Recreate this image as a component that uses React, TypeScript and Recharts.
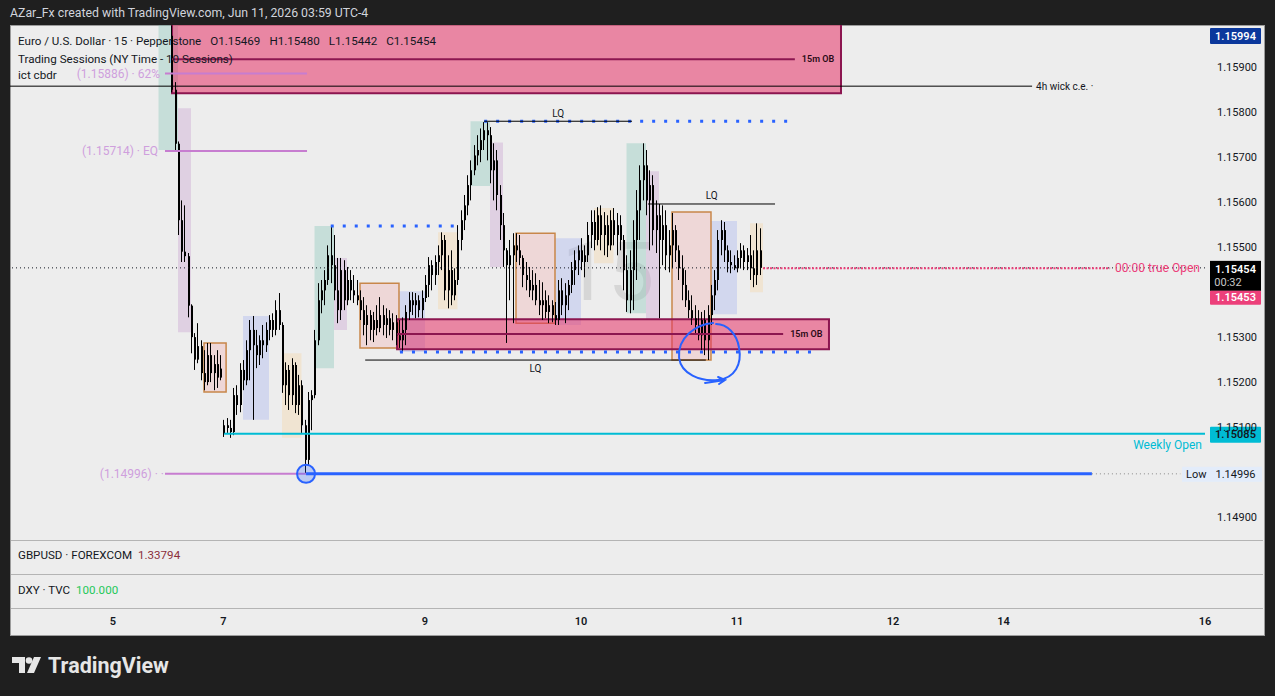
import React from "react";
import {
  ComposedChart,
  Bar,
  XAxis,
  YAxis,
  ReferenceArea,
  ReferenceLine,
  ReferenceDot,
} from "recharts";

const FONT = "Roboto, 'Noto Sans', sans-serif";

type OHLC = [number, number, number, number];

// 30-minute EURUSD bars, [open, high, low, close]; time in hours from Fri Jun 5 00:00 (weekend removed)
const fridayBars: OHLC[] = [
  [1.1597, 1.15993, 1.15844, 1.1585], [1.1585, 1.15867, 1.15716, 1.1573], [1.1573, 1.15735, 1.15527, 1.1556],
  [1.1556, 1.15604, 1.15467, 1.1549], [1.1549, 1.15593, 1.15467, 1.1548], [1.1548, 1.15487, 1.15344, 1.1537],
  [1.1537, 1.15373, 1.15264, 1.153], [1.153, 1.15309, 1.15227, 1.1525], [1.1525, 1.15331, 1.15242, 1.1528],
  [1.1528, 1.15293, 1.15204, 1.1522], [1.1522, 1.15271, 1.15182, 1.152], [1.152, 1.15287, 1.15193, 1.1526],
  [1.1526, 1.15287, 1.152, 1.1522], [1.1522, 1.1526, 1.15182, 1.1524], [1.1524, 1.15271, 1.15187, 1.1521],
  [1.1521, 1.1526, 1.15204, 1.1523],
];

const sundayBars: OHLC[] = [
  [1.15085, 1.15116, 1.15078, 1.15104], [1.15104, 1.1512, 1.15087, 1.15098], [1.15098, 1.15116, 1.15076, 1.15089],
  [1.15089, 1.15187, 1.15082, 1.15171], [1.15171, 1.15193, 1.15127, 1.15149], [1.15149, 1.15242, 1.15133, 1.15227],
  [1.15227, 1.15249, 1.15182, 1.15204], [1.15204, 1.15293, 1.15193, 1.15271], [1.15271, 1.15338, 1.15204, 1.15316],
  [1.15316, 1.15347, 1.15116, 1.15282], [1.15282, 1.15316, 1.15231, 1.1526], [1.1526, 1.15304, 1.15238, 1.15293],
  [1.15293, 1.15327, 1.15253, 1.15282], [1.15282, 1.15333, 1.15267, 1.15316],
];

const mondayBars: OHLC[] = [
  [1.15316, 1.15349, 1.15293, 1.15338], [1.15338, 1.15353, 1.153, 1.15316], [1.15316, 1.15382, 1.15304, 1.1536],
  [1.1536, 1.15398, 1.15316, 1.15327], [1.15327, 1.15333, 1.15176, 1.15193], [1.15193, 1.15244, 1.15149, 1.15227],
  [1.15227, 1.15238, 1.15138, 1.15171], [1.15171, 1.15253, 1.15149, 1.15238], [1.15238, 1.15244, 1.15131, 1.15149],
  [1.15149, 1.15216, 1.15127, 1.15193], [1.15193, 1.15204, 1.15087, 1.15104], [1.15104, 1.15116, 1.14996, 1.15027],
  [1.15027, 1.15178, 1.15016, 1.1516], [1.1516, 1.15182, 1.15093, 1.15171], [1.15171, 1.15316, 1.15164, 1.15293],
  [1.15293, 1.1542, 1.15282, 1.15382], [1.15382, 1.15427, 1.15353, 1.15404], [1.15404, 1.15449, 1.15371, 1.15427],
  [1.15427, 1.15504, 1.15416, 1.15482], [1.15482, 1.15547, 1.1542, 1.1546], [1.1546, 1.15527, 1.15382, 1.15404],
  [1.15404, 1.15476, 1.15331, 1.1536], [1.1536, 1.15476, 1.15338, 1.15449], [1.15449, 1.15471, 1.1536, 1.15382],
  [1.15382, 1.15456, 1.15371, 1.15427], [1.15427, 1.15449, 1.15382, 1.15404], [1.15404, 1.15438, 1.15376, 1.15393],
  [1.15393, 1.15427, 1.15371, 1.15382], [1.15382, 1.15404, 1.15338, 1.1536], [1.1536, 1.15389, 1.15304, 1.15327],
  [1.15327, 1.15371, 1.15282, 1.15349], [1.15349, 1.1536, 1.15293, 1.15316], [1.15316, 1.15356, 1.15289, 1.15338],
  [1.15338, 1.15371, 1.15304, 1.1532], [1.1532, 1.15389, 1.15311, 1.15349], [1.15349, 1.15371, 1.15304, 1.15327],
  [1.15327, 1.15364, 1.15298, 1.15342], [1.15342, 1.1536, 1.15304, 1.15316], [1.15316, 1.15353, 1.15293, 1.15333],
  [1.15333, 1.15349, 1.15282, 1.15304], [1.15304, 1.15338, 1.15276, 1.15293], [1.15293, 1.15344, 1.15267, 1.15316],
  [1.15316, 1.15371, 1.15282, 1.15356], [1.15356, 1.154, 1.15338, 1.15382], [1.15382, 1.154, 1.15349, 1.15371],
  [1.15371, 1.15398, 1.15342, 1.15382], [1.15382, 1.15393, 1.15344, 1.1536], [1.1536, 1.15404, 1.15342, 1.15387],
];

const tuesdayBars: OHLC[] = [
  [1.15387, 1.15438, 1.15378, 1.15416], [1.15416, 1.15478, 1.15389, 1.1546], [1.1546, 1.15471, 1.15404, 1.15438],
  [1.15438, 1.15482, 1.15416, 1.15467], [1.15467, 1.15504, 1.15438, 1.15482], [1.15482, 1.15533, 1.15449, 1.15516],
  [1.15516, 1.15527, 1.15382, 1.15404], [1.15404, 1.15482, 1.15364, 1.15449], [1.15449, 1.15493, 1.15371, 1.15393],
  [1.15393, 1.15453, 1.15382, 1.15427], [1.15427, 1.15549, 1.15416, 1.15516], [1.15516, 1.15582, 1.15493, 1.1556],
  [1.1556, 1.15616, 1.15538, 1.15593], [1.15593, 1.1566, 1.15571, 1.15638], [1.15638, 1.15693, 1.15604, 1.15671],
  [1.15671, 1.15727, 1.1566, 1.15704], [1.15704, 1.15749, 1.15682, 1.15716], [1.15716, 1.15764, 1.15689, 1.15738],
  [1.15738, 1.15778, 1.15716, 1.1576], [1.1576, 1.15778, 1.15693, 1.15749], [1.15749, 1.15767, 1.15642, 1.15671],
  [1.15671, 1.15731, 1.15604, 1.15693], [1.15693, 1.15716, 1.15582, 1.15616], [1.15616, 1.15638, 1.15516, 1.15549],
  [1.15549, 1.15576, 1.15456, 1.15493], [1.15493, 1.15498, 1.15287, 1.1546], [1.1546, 1.15516, 1.15382, 1.15482],
  [1.15482, 1.15531, 1.15331, 1.15504], [1.15504, 1.15531, 1.15467, 1.15493], [1.15493, 1.15527, 1.1546, 1.15476],
  [1.15476, 1.15482, 1.15411, 1.15438], [1.15438, 1.15467, 1.15404, 1.15427], [1.15427, 1.15456, 1.15389, 1.15404],
  [1.15404, 1.15449, 1.15382, 1.15416], [1.15416, 1.15442, 1.15371, 1.15382], [1.15382, 1.15427, 1.15349, 1.15371],
  [1.15371, 1.15422, 1.15338, 1.15382], [1.15382, 1.15404, 1.15342, 1.15356], [1.15356, 1.15393, 1.15331, 1.15371],
  [1.15371, 1.15382, 1.15333, 1.15349], [1.15349, 1.15378, 1.15327, 1.15338], [1.15338, 1.15427, 1.15327, 1.15404],
  [1.15404, 1.15431, 1.15349, 1.15371], [1.15371, 1.1542, 1.15331, 1.15393], [1.15393, 1.15427, 1.1536, 1.15416],
  [1.15416, 1.15467, 1.15398, 1.15449], [1.15449, 1.15493, 1.15416, 1.15471], [1.15471, 1.15504, 1.15438, 1.15493],
];

const wednesdayBars: OHLC[] = [
  [1.15493, 1.1552, 1.15449, 1.15467], [1.15467, 1.15504, 1.15433, 1.15482], [1.15482, 1.15556, 1.15467, 1.15527],
  [1.15527, 1.15582, 1.15498, 1.15556], [1.15556, 1.15582, 1.15493, 1.15516], [1.15516, 1.15589, 1.15504, 1.15571],
  [1.15571, 1.15593, 1.15493, 1.15527], [1.15527, 1.15578, 1.15482, 1.15549], [1.15549, 1.15571, 1.15478, 1.15504],
  [1.15504, 1.15582, 1.15493, 1.1556], [1.1556, 1.15587, 1.15504, 1.15527], [1.15527, 1.15576, 1.15482, 1.15549],
  [1.15549, 1.15571, 1.15493, 1.15516], [1.15516, 1.15527, 1.15404, 1.15449], [1.15449, 1.15482, 1.15356, 1.15382],
  [1.15382, 1.15493, 1.15353, 1.15449], [1.15449, 1.1556, 1.1536, 1.15516], [1.15516, 1.15627, 1.15427, 1.15582],
  [1.15582, 1.15682, 1.15516, 1.15649], [1.15649, 1.15731, 1.15604, 1.15682], [1.15682, 1.15716, 1.15571, 1.15604],
  [1.15604, 1.15671, 1.15493, 1.15638], [1.15638, 1.1566, 1.15504, 1.15538], [1.15538, 1.15604, 1.15487, 1.15571],
  [1.15571, 1.15596, 1.15342, 1.15516], [1.15516, 1.15593, 1.1546, 1.15549], [1.15549, 1.15582, 1.15449, 1.15482],
  [1.15482, 1.15538, 1.15444, 1.15504], [1.15504, 1.15576, 1.15453, 1.15538], [1.15538, 1.15549, 1.15467, 1.15493],
  [1.15493, 1.15504, 1.15427, 1.15453], [1.15453, 1.15482, 1.15382, 1.15416], [1.15416, 1.15449, 1.15367, 1.15382],
  [1.15382, 1.15404, 1.15342, 1.1536], [1.1536, 1.15393, 1.15327, 1.15342], [1.15342, 1.15371, 1.15309, 1.15327],
  [1.15327, 1.1536, 1.15293, 1.15304], [1.15304, 1.15356, 1.15271, 1.15338], [1.15338, 1.1536, 1.1526, 1.15293],
  [1.15293, 1.15371, 1.15249, 1.15349], [1.15349, 1.15416, 1.15327, 1.15393], [1.15393, 1.15449, 1.1536, 1.15427],
  [1.15427, 1.15538, 1.15404, 1.15516], [1.15516, 1.1556, 1.15482, 1.15538], [1.15538, 1.15556, 1.15467, 1.15493],
  [1.15493, 1.15504, 1.15444, 1.15467], [1.15467, 1.15493, 1.15442, 1.1546], [1.1546, 1.15482, 1.15449, 1.15453],
];

const thursdayBars: OHLC[] = [
  [1.15453, 1.15493, 1.15444, 1.15476], [1.15476, 1.15509, 1.15453, 1.15493], [1.15493, 1.15504, 1.15449, 1.15467],
  [1.15467, 1.15498, 1.15449, 1.15482], [1.15482, 1.15527, 1.15427, 1.15453], [1.15453, 1.15493, 1.15411, 1.15438],
  [1.15438, 1.15553, 1.15416, 1.15493], [1.15493, 1.15542, 1.15438, 1.15454],
];

// session boxes: [start hour, end hour, low, high]
const nyBoxes = [[7, 10, 1.15716, 1.1602], [31, 34, 1.15231, 1.15547], [55, 58, 1.15636, 1.1578], [79, 82, 1.15353, 1.15731]];
const lunchBoxes = [[10, 12, 1.15311, 1.15809], [34, 36, 1.15316, 1.15476], [58, 60, 1.15456, 1.15733], [82, 84, 1.15338, 1.15669]];
const cbdrBoxes = [[14, 17.4, 1.15178, 1.15287], [38, 44, 1.15276, 1.1542], [62, 68, 1.15331, 1.15531], [86, 92, 1.15249, 1.15578]];
const asiaBoxes = [[20, 24, 1.15116, 1.15347], [44, 48, 1.15267, 1.15402], [68, 72, 1.15327, 1.1552], [92, 96, 1.15351, 1.15558]];
const londonBoxes = [[26, 29, 1.15076, 1.15264], [50, 53, 1.15362, 1.15533], [74, 77, 1.15464, 1.15587], [98, 100, 1.154, 1.15553]];

// key levels
const visibleHigh = 1.15994;
const lastPrice = 1.15454;
const trueOpen = 1.15453;
const weeklyOpen = 1.15085;
const weekLow = 1.14996;
const cbdr62 = 1.15886;
const cbdrEq = 1.15714;
const wickCE = 1.15858;
const lqHigh = 1.1578;
const lqMonday = 1.15547;
const lqWednesday = 1.15596;
const lqDots = 1.15267;
const lqLow = 1.15249;
const obUpper = { from: 9.08, to: 112, low: 1.15842, high: 1.1602, mid: 1.15918, midEnd: 104.9 };
const obLower = { from: 43.7, to: 110.15, low: 1.15273, high: 1.1534, mid: 1.15307, midEnd: 103.1 };

const timeTicks = [0, 17, 48, 72, 96, 120, 137, 168];
const timeLabels = ["5", "7", "9", "10", "11", "12", "14", "16"];
const priceTicks = [1.149, 1.151, 1.152, 1.153, 1.155, 1.156, 1.157, 1.158, 1.159];

const toCandles = (bars: OHLC[], start: number) =>
  bars.map(([open, high, low, close], i) => ({ t: start + i * 0.5, open, high, low, close, range: [low, high] }));

const candles = [
  ...toCandles(fridayBars, 9),
  ...toCandles(sundayBars, 17),
  ...toCandles(mondayBars, 24),
  ...toCandles(tuesdayBars, 48),
  ...toCandles(wednesdayBars, 72),
  ...toCandles(thursdayBars, 96),
];

const CandleShape = (props: any) => {
  const { x, y, width, height } = props;
  const d = props.payload ?? props;
  if (x == null || y == null || d.high == null) return null;
  const top = Math.min(y, y + height);
  const h = Math.abs(height);
  const span = d.high - d.low;
  const k = span > 0 ? h / span : 0;
  const bTop = top + (d.high - Math.max(d.open, d.close)) * k;
  const bBot = top + (d.high - Math.min(d.open, d.close)) * k;
  const cx = Math.round(x + width / 2);
  return (
    <g>
      <line x1={cx + 0.5} x2={cx + 0.5} y1={top} y2={top + h} stroke="#000" strokeWidth={1} />
      <rect x={cx} y={bTop} width={2} height={Math.max(1, bBot - bTop)} fill="#000" />
    </g>
  );
};

const PriceTick = (props: any) => (
  <text x={1257} y={props.y} dy={4} textAnchor="end" fontSize={11} fill="#131722" fontFamily={FONT}>
    {Number(props.payload.value).toFixed(5)}
  </text>
);

const TimeTick = (props: any) => {
  const idx = timeTicks.indexOf(props.payload.value);
  return (
    <text x={props.x} y={625} textAnchor="middle" fontSize={11} fontWeight={600} fill="#131722" fontFamily={FONT}>
      {timeLabels[idx]}
    </text>
  );
};

// text placed at a data point
const note = (text: string, dx: number, dy: number, fill: string, size = 10, anchor = "start", weight = 400) =>
  (p: any) => (
    <text x={p.cx + dx} y={p.cy + dy} fill={fill} fontSize={size} textAnchor={anchor} fontWeight={weight}
      fontFamily={FONT} dominantBaseline="central">
      {text}
    </text>
  );

// coloured price tag on the right scale
const tag = (text: string, bg: string, color: string, dy: number, h = 16) => (p: any) => (
  <g>
    <rect x={p.cx + 5} y={p.cy + dy} width={51} height={h} fill={bg} rx={1} />
    <text x={p.cx + 30.5} y={p.cy + dy + h / 2} fill={color} fontSize={11} fontWeight={600} textAnchor="middle"
      dominantBaseline="central" fontFamily={FONT}>
      {text}
    </text>
  </g>
);

const sessionStyles = [
  { boxes: nyBoxes, fill: "#7fc4b4", stroke: "none" },
  { boxes: lunchBoxes, fill: "#c79bcf", stroke: "none" },
  { boxes: asiaBoxes, fill: "#a0aff2", stroke: "none" },
  { boxes: londonBoxes, fill: "#f5d5a0", stroke: "none" },
  { boxes: cbdrBoxes, fill: "#f2b0b0", stroke: "#c8874a" },
];

const OB_FILL = "#e63266";
const OB_EDGE = "#8c1650";
const LQ_BLUE = "#2962ff";
const PURPLE = "#c77dd0";
const PURPLE_TEXT = "#cf9fdd";

export default function App() {
  const pane = { position: "absolute" as const, left: 18, fontSize: 11.6, lineHeight: "16px", color: "#131722", whiteSpace: "nowrap" as const };
  return (
    <div style={{ position: "fixed", left: 0, top: 0, width: 1275, height: 696, background: "#1f1f1f", fontFamily: FONT, overflow: "hidden" }}>
      <div style={{ position: "absolute", left: 10, top: 6, fontSize: 12.3, color: "#d1d4dc" }}>
        AZar_Fx created with TradingView.com, Jun 11, 2026 03:59 UTC-4
      </div>

      {/* chart panel background */}
      <div style={{ position: "absolute", left: 10, top: 25, width: 1253, height: 609, background: "#ededed", border: "1px solid #9c9c9c" }} />
      {[540, 574, 608].map((y) => (
        <div key={y} style={{ position: "absolute", left: 11, top: y, width: 1252, height: 1, background: "#b4b4b4" }} />
      ))}

      {/* watermark */}
      <div style={{ position: "absolute", left: 562, top: 222, fontSize: 82, color: "#d6d6d6", lineHeight: "100px" }}>15</div>

      <div style={{ position: "absolute", left: 0, top: 0 }}>
        <ComposedChart width={1275} height={635} data={candles} margin={{ top: 25, right: 12, left: 10, bottom: 0 }}>
          <XAxis type="number" dataKey="t" domain={[-15.846, 168]} ticks={timeTicks} interval={0} height={95}
            axisLine={false} tickLine={false} tick={<TimeTick />} allowDataOverflow />
          <YAxis orientation="right" type="number" domain={[1.148489, visibleHigh]} ticks={priceTicks} interval={0}
            width={58} axisLine={false} tickLine={false} tick={<PriceTick />} allowDataOverflow />

          {sessionStyles.map((s, si) =>
            s.boxes.map((b, bi) => (
              <ReferenceArea key={`s${si}-${bi}`} x1={b[0]} x2={b[1]} y1={b[2]} y2={b[3]} fill={s.fill}
                fillOpacity={0.35} stroke={s.stroke} strokeWidth={1.5} strokeOpacity={1} ifOverflow="hidden" />
            ))
          )}

          <ReferenceArea x1={obUpper.from} x2={obUpper.to} y1={obUpper.low} y2={obUpper.high} fill={OB_FILL}
            fillOpacity={0.55} stroke={OB_EDGE} strokeWidth={2} ifOverflow="hidden" />
          <ReferenceArea x1={obLower.from} x2={obLower.to} y1={obLower.low} y2={obLower.high} fill={OB_FILL}
            fillOpacity={0.55} stroke={OB_EDGE} strokeWidth={2} ifOverflow="hidden" />

          <Bar dataKey="range" barSize={3} shape={CandleShape} isAnimationActive={false} />

          {/* order block mid lines */}
          <ReferenceLine segment={[{ x: obUpper.from, y: obUpper.mid }, { x: obUpper.midEnd, y: obUpper.mid }]} stroke={OB_EDGE} strokeWidth={2} />
          <ReferenceLine segment={[{ x: obLower.from, y: obLower.mid }, { x: obLower.midEnd, y: obLower.mid }]} stroke={OB_EDGE} strokeWidth={2} />

          {/* ict cbdr levels */}
          <ReferenceLine segment={[{ x: 8, y: cbdr62 }, { x: 29.85, y: cbdr62 }]} stroke={PURPLE} strokeWidth={2} />
          <ReferenceLine segment={[{ x: 8, y: cbdrEq }, { x: 29.85, y: cbdrEq }]} stroke={PURPLE} strokeWidth={2} />
          <ReferenceLine segment={[{ x: 8, y: weekLow }, { x: 29.7, y: weekLow }]} stroke={PURPLE} strokeWidth={2} />

          {/* 4h wick c.e. */}
          <ReferenceLine segment={[{ x: -15.846, y: wickCE }, { x: 141.4, y: wickCE }]} stroke="#000" strokeWidth={1} />

          {/* current price and true open */}
          <ReferenceLine y={lastPrice} stroke="#131722" strokeDasharray="1 3" strokeWidth={1} />
          <ReferenceLine segment={[{ x: 100, y: trueOpen }, { x: 153.4, y: trueOpen }]} stroke="#ec407a" strokeWidth={2} strokeDasharray="2 1.5" />

          {/* weekly open */}
          <ReferenceLine segment={[{ x: 17.1, y: weeklyOpen }, { x: 168, y: weeklyOpen }]} stroke="#00bcd4" strokeWidth={2} />

          {/* weekly low */}
          <ReferenceLine segment={[{ x: 29.7, y: weekLow }, { x: 150.6, y: weekLow }]} stroke={LQ_BLUE} strokeWidth={3} />
          <ReferenceLine segment={[{ x: 150.6, y: weekLow }, { x: 164.2, y: weekLow }]} stroke="#888" strokeWidth={1} strokeDasharray="1 3" />

          {/* liquidity lines */}
          <ReferenceLine segment={[{ x: 57.1, y: lqHigh }, { x: 104.2, y: lqHigh }]} stroke={LQ_BLUE} strokeWidth={3} strokeDasharray="3 9" />
          <ReferenceLine segment={[{ x: 57.1, y: lqHigh }, { x: 79.85, y: lqHigh }]} stroke="#000" strokeWidth={1} />
          <ReferenceLine segment={[{ x: 33.5, y: lqMonday }, { x: 52.9, y: lqMonday }]} stroke={LQ_BLUE} strokeWidth={3} strokeDasharray="3 9" />
          <ReferenceLine segment={[{ x: 82.3, y: lqWednesday }, { x: 101.85, y: lqWednesday }]} stroke="#000" strokeWidth={1} />
          <ReferenceLine segment={[{ x: 44.15, y: lqDots }, { x: 107.5, y: lqDots }]} stroke={LQ_BLUE} strokeWidth={3} strokeDasharray="3 9" />
          <ReferenceLine segment={[{ x: 38.8, y: lqLow }, { x: 91.2, y: lqLow }]} stroke="#000" strokeWidth={1} />

          {/* texts */}
          <ReferenceDot x={68.5} y={lqHigh} r={0} ifOverflow="visible" shape={note("LQ", 0, -8, "#131722", 10, "middle")} />
          <ReferenceDot x={92.1} y={lqWednesday} r={0} ifOverflow="visible" shape={note("LQ", 0, -8, "#131722", 10, "middle")} />
          <ReferenceDot x={65} y={lqLow} r={0} ifOverflow="visible" shape={note("LQ", 0, 8, "#131722", 10, "middle")} />
          <ReferenceDot x={obUpper.midEnd} y={obUpper.mid} r={0} ifOverflow="visible" shape={note("15m OB", 7, 0, "#2a0a16", 9, "start", 600)} />
          <ReferenceDot x={obLower.midEnd} y={obLower.mid} r={0} ifOverflow="visible" shape={note("15m OB", 7, 0, "#2a0a16", 9, "start", 600)} />
          <ReferenceDot x={141.4} y={wickCE} r={0} ifOverflow="visible" shape={note("4h wick c.e. ·", 4, 0, "#131722", 10)} />
          <ReferenceDot x={8} y={cbdr62} r={0} ifOverflow="visible" shape={note("(1.15886) · 62%", -5, 0, PURPLE_TEXT, 12, "end")} />
          <ReferenceDot x={8} y={cbdrEq} r={0} ifOverflow="visible" shape={note("(1.15714) · EQ", -7, 0, PURPLE_TEXT, 12, "end")} />
          <ReferenceDot x={8} y={weekLow} r={0} ifOverflow="visible" shape={note("(1.14996) · ·", -1, 0, PURPLE_TEXT, 12, "end")} />
          <ReferenceDot x={153.4} y={trueOpen} r={0} ifOverflow="visible" shape={note("00:00 true Open", 5, 0, "#ec407a", 12)} />
          <ReferenceDot x={168} y={weeklyOpen} r={0} ifOverflow="visible" shape={note("Weekly Open", -3, 11, "#00bcd4", 12, "end")} />

          {/* marks */}
          <ReferenceDot x={29.7} y={weekLow} r={9} fill={LQ_BLUE} fillOpacity={0.25} stroke={LQ_BLUE} strokeWidth={2} ifOverflow="visible" />
          <ReferenceDot x={91.55} y={lqDots} r={0} ifOverflow="visible"
            shape={(p: any) => (
              <path transform={`translate(${p.cx},${p.cy - 2})`} fill="none" stroke={LQ_BLUE} strokeWidth={2} strokeLinecap="round"
                d="M 5 -27 C -12 -26 -31 -12 -29 8 C -27 24 -8 32 10 30 C 27 28 34 14 31 -2 C 29 -16 19 -26 8 -26 M -3 33 L 17 30 M 10 27 L 17 30 L 11 34" />
            )} />

          {/* right scale tags */}
          <ReferenceDot x={168} y={visibleHigh} r={0} ifOverflow="visible" shape={tag("1.15994", "#0b389c", "#ffffff", 3)} />
          <ReferenceDot x={168} y={lastPrice} r={0} ifOverflow="visible"
            shape={(p: any) => (
              <g fontFamily={FONT}>
                <rect x={p.cx + 5} y={p.cy - 7} width={51} height={30} fill="#000" />
                <text x={p.cx + 30.5} y={p.cy + 2} fill="#fff" fontSize={11} fontWeight={600} textAnchor="middle" dominantBaseline="central">1.15454</text>
                <text x={p.cx + 23} y={p.cy + 15} fill="#c8c8c8" fontSize={11} textAnchor="middle" dominantBaseline="central">00:32</text>
              </g>
            )} />
          <ReferenceDot x={168} y={lastPrice} r={0} ifOverflow="visible" shape={tag("1.15453", "#ec407a", "#ffffff", 23, 14)} />
          <ReferenceDot x={168} y={weeklyOpen} r={0} ifOverflow="visible" shape={tag("1.15085", "#00bcd4", "#131722", -7)} />
          <ReferenceDot x={168} y={weekLow} r={0} ifOverflow="visible"
            shape={(p: any) => (
              <g fontFamily={FONT}>
                <rect x={p.cx - 23} y={p.cy - 7} width={80} height={15} fill="#e3ecfa" />
                <text x={p.cx - 19} y={p.cy + 1} fill="#131722" fontSize={11} dominantBaseline="central">Low</text>
                <text x={p.cx + 30.5} y={p.cy + 1} fill="#131722" fontSize={11} textAnchor="middle" dominantBaseline="central">1.14996</text>
              </g>
            )} />
        </ComposedChart>
      </div>

      {/* legend */}
      <div style={{ ...pane, top: 33 }}>
        Euro / U.S. Dollar · 15 · Pepperstone
        <span style={{ marginLeft: 9 }}>O1.15469</span>
        <span style={{ marginLeft: 9 }}>H1.15480</span>
        <span style={{ marginLeft: 9 }}>L1.15442</span>
        <span style={{ marginLeft: 9 }}>C1.15454</span>
      </div>
      <div style={{ ...pane, top: 51 }}>Trading Sessions (NY Time - 10 Sessions)</div>
      <div style={{ ...pane, top: 67 }}>ict cbdr</div>

      {/* indicator panes */}
      <div style={{ ...pane, top: 547 }}>
        GBPUSD · FOREXCOM <span style={{ color: "#8b2f3c", marginLeft: 3 }}>1.33794</span>
      </div>
      <div style={{ ...pane, top: 582 }}>
        DXY · TVC <span style={{ color: "#1ec85a", marginLeft: 3 }}>100.000</span>
      </div>

      {/* TradingView logo */}
      <svg style={{ position: "absolute", left: 12, top: 657 }} width={30} height={18}>
        <path d="M0 0 H13 V16 H7 V6 H0 Z" fill="#e6e6e6" />
        <circle cx={17} cy={3.5} r={3.3} fill="#e6e6e6" />
        <path d="M22 0 H29 L22 16 H15 Z" fill="#e6e6e6" />
      </svg>
      <div style={{ position: "absolute", left: 48, top: 652, fontSize: 21.5, fontWeight: 700, color: "#e6e6e6", lineHeight: "28px" }}>
        TradingView
      </div>
    </div>
  );
}
